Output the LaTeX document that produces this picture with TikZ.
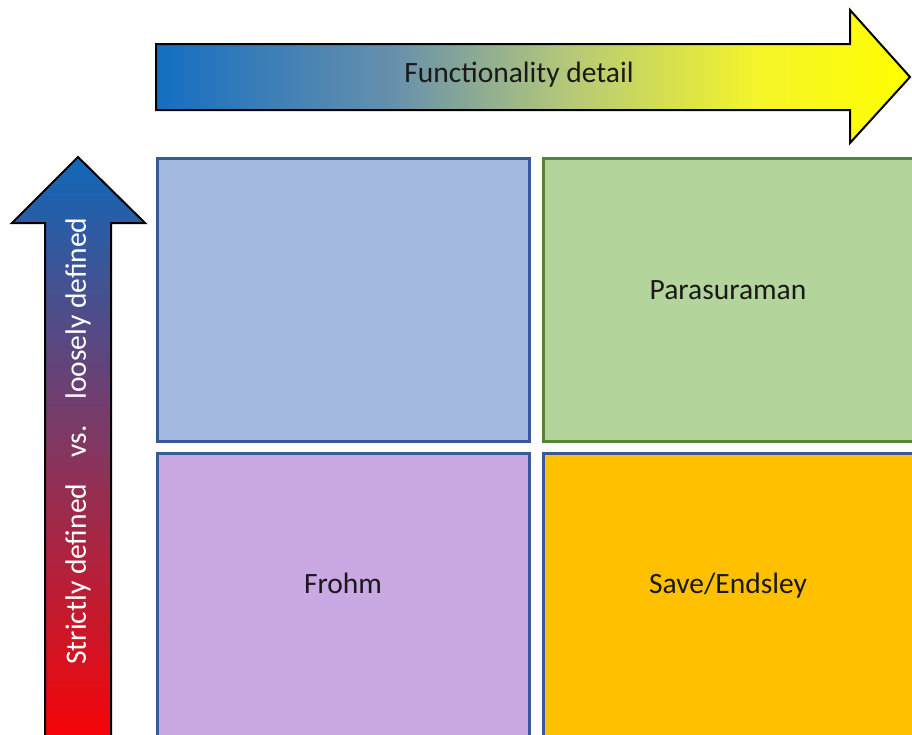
\documentclass[tikz,border=0pt]{standalone}
\usepackage{fontspec}
\setmainfont{Carlito}
\definecolor{uparrowblue}{RGB}{16,104,186}
\definecolor{uparrowred}{RGB}{255,0,0}
\definecolor{cellblue}{RGB}{164,185,225}
\definecolor{cellgreen}{RGB}{179,213,155}
\definecolor{cellviolet}{RGB}{202,168,227}
\definecolor{cellamber}{RGB}{255,192,0}
\definecolor{edgeblue}{RGB}{56,88,152}
\definecolor{edgegreen}{RGB}{84,132,54}
% blue -> grey -> yellow ramp for the horizontal axis arrow
\pgfdeclarehorizontalshading{bluetoyellow}{100bp}{%
  rgb(0bp)=(0.08,0.43,0.76);
  rgb(25bp)=(0.08,0.43,0.76);
  rgb(41bp)=(0.41,0.57,0.67);
  rgb(52bp)=(0.70,0.78,0.48);
  rgb(65bp)=(0.96,0.96,0.16);
  rgb(75bp)=(1,1,0);
  rgb(100bp)=(1,1,0)}
\tikzset{
  bigarrow/.style={draw=black, line width=2pt, line join=miter},
  cell/.style={line width=3pt},
  celllabel/.style={font=\fontsize{29.5}{34}\selectfont, text=black!90,
    text height=0.7em, text depth=0.25em},
  axislabel/.style={font=\fontsize{29.5}{34}\selectfont}
}
\begin{document}
\begin{tikzpicture}[x=1pt,y=-1pt]
\useasboundingbox (0,0) rectangle (912,734);
\fill[white] (0,0) rectangle (912,734);
\clip (0,0) rectangle (912,734);

% horizontal arrow: functionality detail
\path[bigarrow, shading=bluetoyellow]
  (156,44) -- (850,44) -- (850,10) -- (910,77) -- (850,143) -- (850,110) -- (156,110) -- cycle;
\node[axislabel, text=black!90] (hlabel) at (519,75) {Functionality detail};

% vertical arrow: strictly vs. loosely defined
\path[bigarrow, top color=uparrowblue, bottom color=uparrowred]
  (45,760) -- (45,223) -- (12,223) -- (78,157) -- (145,223) -- (111,223) -- (111,760) -- cycle;
\node[axislabel, text=white, rotate=90] (vlabel) at (78,441)
  {Strictly defined\hspace{26pt}vs.\hspace{26pt}loosely defined};

% quadrants
\filldraw[cell, fill=cellblue, draw=edgeblue] (157,158) rectangle (529,441);
\filldraw[cell, fill=cellgreen, draw=edgegreen] (543,158) rectangle (930,441);
\filldraw[cell, fill=cellviolet, draw=edgeblue] (157,453) rectangle (529,760);
\filldraw[cell, fill=cellamber, draw=edgeblue] (543,453) rectangle (930,760);

\node[celllabel] (para) at (728,297) {Parasuraman};
\node[celllabel] (frohm) at (343,591) {Frohm};
\node[celllabel] (save) at (728,591) {Save/Endsley};
\end{tikzpicture}
\end{document}
